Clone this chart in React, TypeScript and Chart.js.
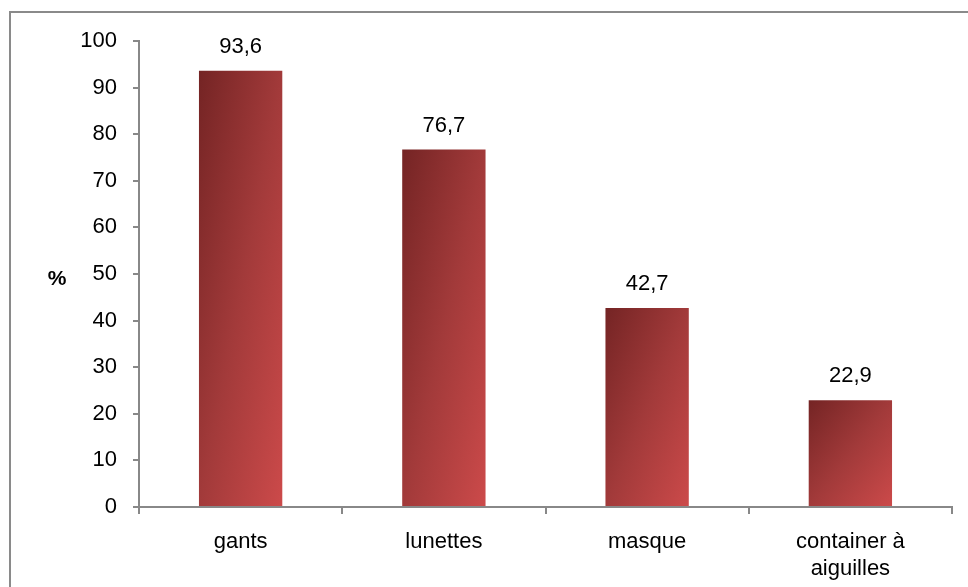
import React, { useEffect, useRef } from "react";
import { Chart, registerables } from "chart.js";

Chart.register(...registerables);

const categories: (string | string[])[] = ["gants", "lunettes", "masque", ["container à", "aiguilles"]];
const values: number[] = [93.6, 76.7, 42.7, 22.9];
const yTitle = "%";
const FONT = "'Liberation Sans', Arial, sans-serif";

function barGradient(ctx: any) {
  const chart = ctx.chart;
  const xs = chart.scales?.x;
  const ys = chart.scales?.y;
  if (!xs || !ys || ctx.dataIndex === undefined) return "#a33a3a";
  const i = ctx.dataIndex;
  const cx = xs.getPixelForValue(i);
  const catW = xs.width / categories.length;
  const w = catW * 0.41;
  const left = cx - w / 2;
  const top = ys.getPixelForValue(values[i]);
  const bottom = ys.getPixelForValue(0);
  const h = bottom - top;
  if (![cx, w, left, top, bottom, h].every((v) => Number.isFinite(v)) || w <= 0 || h <= 0) return "#a33a3a";
  const k = 2 / (1 / (w * w) + 1 / (h * h));
  const x1 = left + k / w;
  const y1 = top + k / h;
  if (!Number.isFinite(x1) || !Number.isFinite(y1)) return "#a33a3a";
  const g = chart.ctx.createLinearGradient(left, top, x1, y1);
  g.addColorStop(0, "#742424");
  g.addColorStop(0.5, "#a23a3a");
  g.addColorStop(1, "#cc4a4a");
  return g;
}

const decor = {
  id: "decor",
  beforeDraw(chart: any) {
    const c = chart.ctx;
    c.save();
    c.strokeStyle = "#8a8a8a";
    c.lineWidth = 2;
    c.strokeRect(10, 12, 1000, 1000);
    c.restore();
  },
  afterDraw(chart: any) {
    const c = chart.ctx;
    const ca = chart.chartArea;
    c.save();
    c.fillStyle = "#000";
    c.font = `bold 21px ${FONT}`;
    c.textAlign = "center";
    c.textBaseline = "middle";
    c.fillText(yTitle, 57, (ca.top + ca.bottom) / 2 + 5);
    c.font = `22px ${FONT}`;
    const meta = chart.getDatasetMeta(0);
    meta.data.forEach((bar: any, i: number) => {
      c.fillText(values[i].toFixed(1).replace(".", ","), bar.x, bar.y - 24);
    });
    c.restore();
  },
};

export default function App() {
  const ref = useRef<HTMLCanvasElement>(null);
  useEffect(() => {
    document.body.style.margin = "0";
    const chart = new Chart(ref.current!, {
      type: "bar",
      data: {
        labels: categories,
        datasets: [
          {
            data: values,
            backgroundColor: barGradient as any,
            borderWidth: 0,
            categoryPercentage: 1,
            barPercentage: 0.41,
          },
        ],
      },
      options: {
        animation: false,
        responsive: false,
        layout: { padding: { left: 0, right: 16, top: 41, bottom: 0 } },
        plugins: { legend: { display: false }, tooltip: { enabled: false } },
        scales: {
          x: {
            grid: { drawOnChartArea: false, drawTicks: true, tickLength: 7, color: "#888", offset: true, lineWidth: 2 },
            border: { color: "#888", width: 2 },
            ticks: { color: "#000", font: { family: FONT, size: 22, lineHeight: 1.24 }, padding: 14, maxRotation: 0, autoSkip: false },
            afterFit: (s: any) => { s.height = 80; },
          },
          y: {
            min: 0,
            max: 100,
            grid: { drawOnChartArea: false, drawTicks: true, tickLength: 6, color: "#888", lineWidth: 2 },
            border: { color: "#888", width: 2 },
            ticks: { stepSize: 10, color: "#000", font: { family: FONT, size: 22 }, padding: 16 },
            afterFit: (s: any) => { s.width = 139; },
          },
        },
      },
      plugins: [decor],
    });
    return () => chart.destroy();
  }, []);
  return <canvas ref={ref} width={968} height={587} style={{ display: "block" }} />;
}
